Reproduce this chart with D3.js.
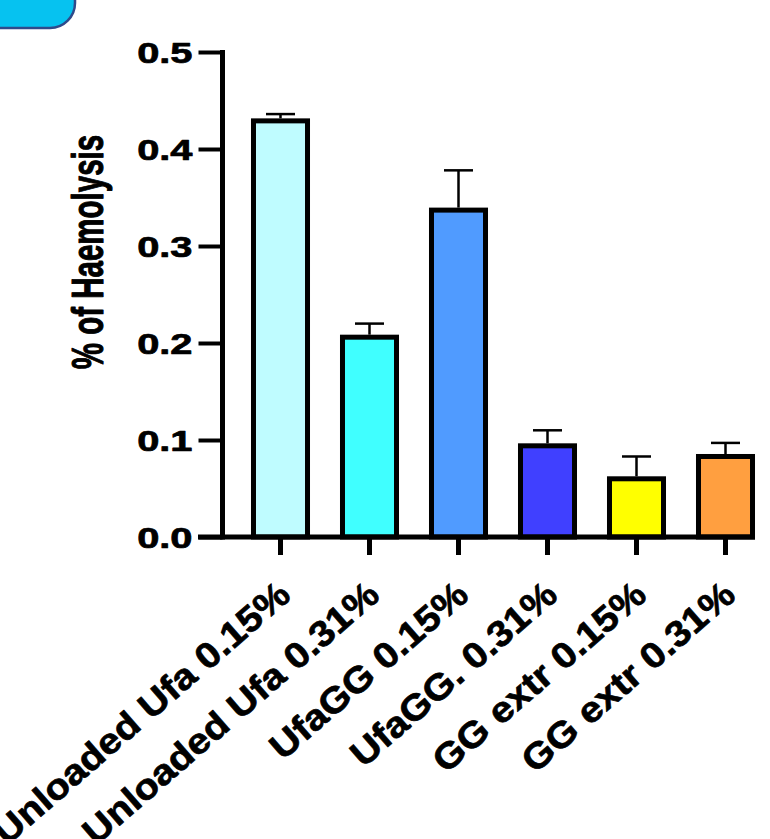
<!DOCTYPE html>
<html>
<head>
<meta charset="utf-8">
<script src="https://cdn.jsdelivr.net/npm/d3@7"></script>
<style>
  html, body { margin: 0; padding: 0; background: #ffffff; }
  svg { display: block; }
  text { font-family: "Liberation Sans", Arial, sans-serif; font-weight: bold; fill: #000; stroke: #000; stroke-width: 0.7px; stroke-linejoin: round; }
</style>
</head>
<body>
<script>
// ---- data ----
const categories = ["Unloaded Ufa 0.15%", "Unloaded Ufa 0.31%", "UfaGG 0.15%", "UfaGG. 0.31%", "GG extr 0.15%", "GG extr 0.31%"];
const means = [0.429, 0.206, 0.337, 0.094, 0.060, 0.083];
const errors = [0.007, 0.014, 0.041, 0.016, 0.023, 0.014];
const barColors = ["#BFFCFF", "#40FFFF", "#509BFF", "#4040FF", "#FFFF00", "#FF9F40"];
const yTicks = [0.0, 0.1, 0.2, 0.3, 0.4, 0.5];
const yTitle = "% of Haemolysis";

// ---- layout ----
const W = 770, H = 839;
const stretch = 1.35;
const svg = d3.select("body").append("svg").attr("width", W).attr("height", H);

const x = d3.scaleBand().domain(categories).range([236, 770]).paddingInner(0.393).paddingOuter(0.1965);
const y = d3.scaleLinear().domain([0, 0.5]).range([537, 52]);

// top-left decoration
svg.append("rect").attr("x", -40).attr("y", -40).attr("width", 115).attr("height", 68)
  .attr("rx", 25).attr("fill", "#06C2F0").attr("stroke", "#2F4A8A").attr("stroke-width", 2.5);

// bars + error bars
const bars = svg.append("g");
categories.forEach((c, i) => {
  bars.append("rect")
    .attr("x", x(c)).attr("y", y(means[i]))
    .attr("width", x.bandwidth()).attr("height", y(0) - y(means[i]))
    .attr("fill", barColors[i]).attr("stroke", "#000").attr("stroke-width", 5);
  const cx = x(c) + x.bandwidth() / 2;
  const top = y(means[i] + errors[i]);
  bars.append("line").attr("x1", cx).attr("x2", cx).attr("y1", y(means[i]) - 2.5).attr("y2", top)
    .attr("stroke", "#000").attr("stroke-width", 2.5);
  bars.append("line").attr("x1", cx - 14.5).attr("x2", cx + 14.5).attr("y1", top).attr("y2", top)
    .attr("stroke", "#000").attr("stroke-width", 2.5);
});

// y axis
const yAxis = d3.axisLeft(y).tickValues(yTicks).tickSize(24).tickPadding(6).tickFormat(d3.format(".1f"));
const gy = svg.append("g").attr("transform", "translate(222.5,0)").call(yAxis);
gy.select(".domain").remove();
gy.append("line").attr("x1", 0).attr("x2", 0).attr("y1", y(0.5) - 2).attr("y2", y(0) + 2.5)
  .attr("stroke", "#000").attr("stroke-width", 5);
gy.selectAll(".tick line").attr("stroke", "#000").attr("stroke-width", 4);
gy.selectAll(".tick text").each(function(d) {
  d3.select(this).attr("x", null)
   .attr("transform", `translate(-30,0) scale(${stretch},1)`)
   .attr("dy", "0.36em").attr("font-size", 29.5).attr("text-anchor", "end")
   .style("font-family", '"Liberation Sans", Arial, sans-serif').style("font-weight", "bold");
});

// x axis
const xAxis = d3.axisBottom(x).tickSize(18).tickFormat("");
const gx = svg.append("g").attr("transform", `translate(0,${y(0)})`).call(xAxis);
gx.select(".domain").remove();
gx.append("line").attr("x1", 198).attr("x2", 755).attr("y1", 0).attr("y2", 0)
  .attr("stroke", "#000").attr("stroke-width", 5);
gx.selectAll(".tick line").attr("stroke", "#000").attr("stroke-width", 5);

// x labels
const angle = -41;
const xl = svg.append("g");
categories.forEach((c, i) => {
  const cx = x(c) + x.bandwidth() / 2;
  const t = xl.append("text")
    .attr("transform", `translate(${cx + 12},598) rotate(${angle})`)
    .attr("text-anchor", "end").attr("font-size", 36)
    .text(c);
  const n = t.node().getComputedTextLength();
  t.attr("textLength", n * 1.1).attr("lengthAdjust", "spacingAndGlyphs");
});

// y title
svg.append("text")
  .attr("transform", `translate(103,252) scale(1.5,1) rotate(-90)`)
  .attr("text-anchor", "middle").attr("font-size", 29.5)
  .text(yTitle);
</script>
</body>
</html>
